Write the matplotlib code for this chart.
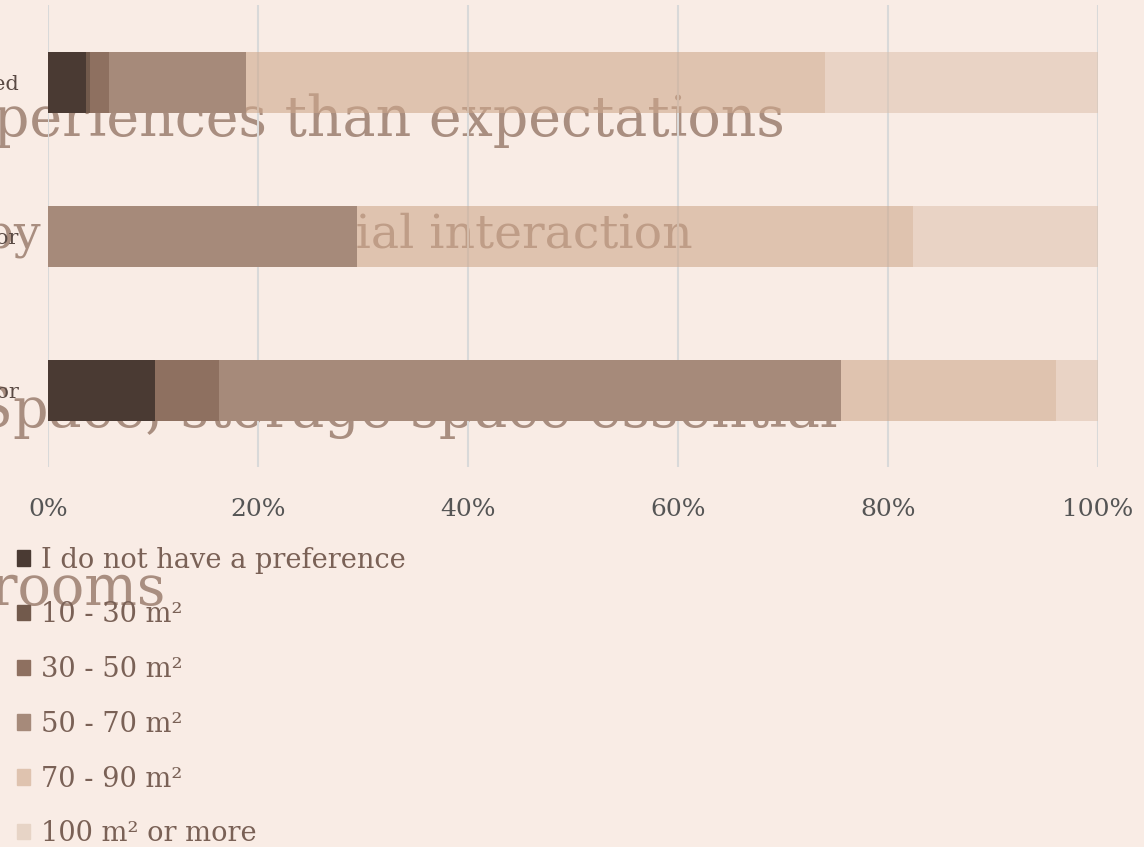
import matplotlib.pyplot as plt
from matplotlib.patches import Patch
import numpy as np

plt.rcParams['font.family'] = ['DejaVu Serif']

# rows, top to bottom (labels are mostly cut off at the left edge)
categories = ["Shared", "Ground floor", "Upper floor"]
series = ["I do not have a preference", "10 - 30 m²", "30 - 50 m²",
          "50 - 70 m²", "70 - 90 m²", "100 m² or more"]
values = {
    "I do not have a preference": [3.6, 0.0, 10.2],
    "10 - 30 m²": [0.4, 0.0, 0.0],
    "30 - 50 m²": [1.8, 0.0, 6.1],
    "50 - 70 m²": [13.1, 29.4, 59.2],
    "70 - 90 m²": [55.1, 53.0, 20.5],
    "100 m² or more": [26.0, 17.6, 4.0],
}
ticks = [0, 20, 40, 60, 80, 100]
headings = ["experiences than expectations", "enriched by stronger social interaction",
            "Space, storage space essential", "rooms"]

colors = ["#4A3A33", "#725A4C", "#8E7060", "#A68A7A", "#CEA88C", "#DCC0AC"]
swatch = ["#4A3A33", "#725A4C", "#8E7060", "#A68A7A", "#DFC3AF", "#E7D4C6"]
alphas = [1, 1, 1, 1, 0.6, 0.55]
bg = "#F9ECE5"

fig = plt.figure(figsize=(11.44, 8.47), dpi=100, facecolor=bg)
ax = fig.add_axes([48 / 1144, 1 - 467.5 / 847, 1050 / 1144, 462 / 847])
ax.patch.set_visible(False)

# large page headings bleeding in behind the chart (right end x, baseline y in px, size)
heading_pos = [(785, 136, 40), (693, 248, 34), (838, 427, 40), (165, 605, 40)]
for s, (x, yb, fs) in zip(headings, heading_pos):
    fig.text(x / 1144, 1 - yb / 847, s, ha="right", va="baseline",
             fontsize=fs, color="#A98E80", zorder=-1)

y = np.arange(len(categories))
left = np.zeros(len(categories))
for name, c, a in zip(series, colors, alphas):
    v = np.array(values[name])
    ax.barh(y, v, left=left, height=0.4, color=c, alpha=a, label=name, zorder=3)
    left += v

ax.set_xlim(0, 100)
ax.set_ylim(2.5, -0.5)
ax.set_xticks(ticks)
ax.set_xticklabels([f"{t}%" for t in ticks], fontsize=18, color="#555555")
ax.set_yticks(y)
ax.set_yticklabels(categories, fontsize=15, color="#5A4A44")
ax.tick_params(length=0, axis="x", pad=22)
ax.tick_params(length=0, axis="y", pad=21)
ax.grid(axis="x", color="#D9D9D9", lw=1.5, zorder=2)
ax.set_axisbelow(False)
for sp in ax.spines.values():
    sp.set_visible(False)

handles = [Patch(color=c) for c in swatch]
fig.legend(handles, series, loc="upper left", bbox_to_anchor=(-8 / 1144, 1 - 522 / 847),
           frameon=False, fontsize=19.6, labelcolor="#7A6156", handlelength=0.5,
           handleheight=0.5, handletextpad=0.4, labelspacing=1.02)

fig.savefig("out.png", dpi=100, facecolor=bg)
